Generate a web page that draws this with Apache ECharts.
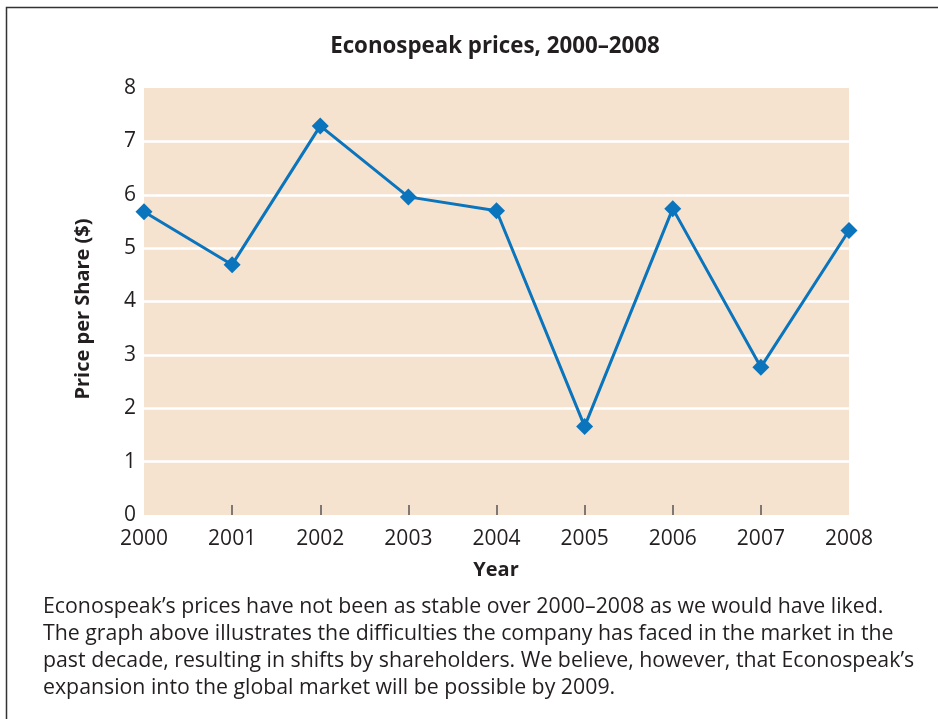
<!DOCTYPE html>
<html>
<head>
<meta charset="utf-8">
<script src="https://cdn.jsdelivr.net/npm/echarts@6/dist/echarts.min.js"></script>
<style>
html,body{margin:0;padding:0;background:#fff;}
#chart{width:938px;height:719px;}
</style>
</head>
<body>
<div id="chart"></div>
<script>
var years = ['2000','2001','2002','2003','2004','2005','2006','2007','2008'];
var prices = [5.68, 4.69, 7.29, 5.96, 5.70, 1.66, 5.74, 2.77, 5.33];
var yTicks = [0,1,2,3,4,5,6,7,8];
var titleText = 'Econospeak prices, 2000\u20132008';
var yTitle = 'Price per Share ($)';
var xTitle = 'Year';
var captionLines = [
  'Econospeak\u2019s prices have not been as stable over 2000\u20132008 as we would have liked.',
  'The graph above illustrates the difficulties the company has faced in the market in the',
  'past decade, resulting in shifts by shareholders. We believe, however, that Econospeak\u2019s',
  'expansion into the global market will be possible by 2009.'
];

var FONT = '"Open Sans", "Noto Sans", sans-serif';
var chart = echarts.init(document.getElementById('chart'), null, {renderer:'canvas'});

var graphics = [
  {type:'polyline', shape:{points:[[6.5,730],[6.5,7.5],[945,7.5]]}, style:{stroke:'#333', lineWidth:1.5, fill:null}, silent:true},
  {type:'text', x:495, y:47, style:{text:titleText, font:'bold 22.3px ' + FONT, fill:'#231f20', textAlign:'center', textVerticalAlign:'middle'}},
  {type:'text', x:496, y:570, style:{text:xTitle, font:'bold 20px ' + FONT, fill:'#231f20', textAlign:'center', textVerticalAlign:'middle'}},
  {type:'text', x:83, y:309, rotation:Math.PI/2, style:{text:yTitle, font:'bold 20px ' + FONT, fill:'#231f20', textAlign:'center', textVerticalAlign:'middle'}}
];
captionLines.forEach(function(line, i){
  graphics.push({type:'text', x:43, y:607 + i*27, style:{text:line, font:'21.3px ' + FONT, fill:'#231f20', textAlign:'left', textVerticalAlign:'middle'}});
});

chart.setOption({
  animation:false,
  backgroundColor:'#fff',
  grid:{left:144, right:89, top:88, bottom:204, containLabel:false, show:true, backgroundColor:'#f5e3cf', borderWidth:0},
  xAxis:{
    type:'category', data:years, boundaryGap:false,
    axisLine:{show:false},
    axisTick:{show:true, inside:true, length:10, alignWithLabel:true, lineStyle:{color:'#555', width:1.5},
      interval:function(idx){ return idx>0 && idx<years.length-1; }},
    axisLabel:{color:'#231f20', fontSize:21, fontFamily:FONT, margin:14, interval:0},
    splitLine:{show:false}
  },
  yAxis:{
    type:'value', min:yTicks[0], max:yTicks[yTicks.length-1], interval:1,
    axisLine:{show:false}, axisTick:{show:false},
    axisLabel:{color:'#231f20', fontSize:21, fontFamily:FONT, margin:8},
    splitLine:{show:true, lineStyle:{color:'#ffffff', width:2.5}, showMinLine:false, showMaxLine:false}
  },
  series:[{
    type:'line', data:prices,
    symbol:'diamond', symbolSize:17,
    lineStyle:{color:'#0a74bd', width:3},
    itemStyle:{color:'#0a74bd'}
  }],
  graphic:graphics
});
</script>
</body>
</html>
